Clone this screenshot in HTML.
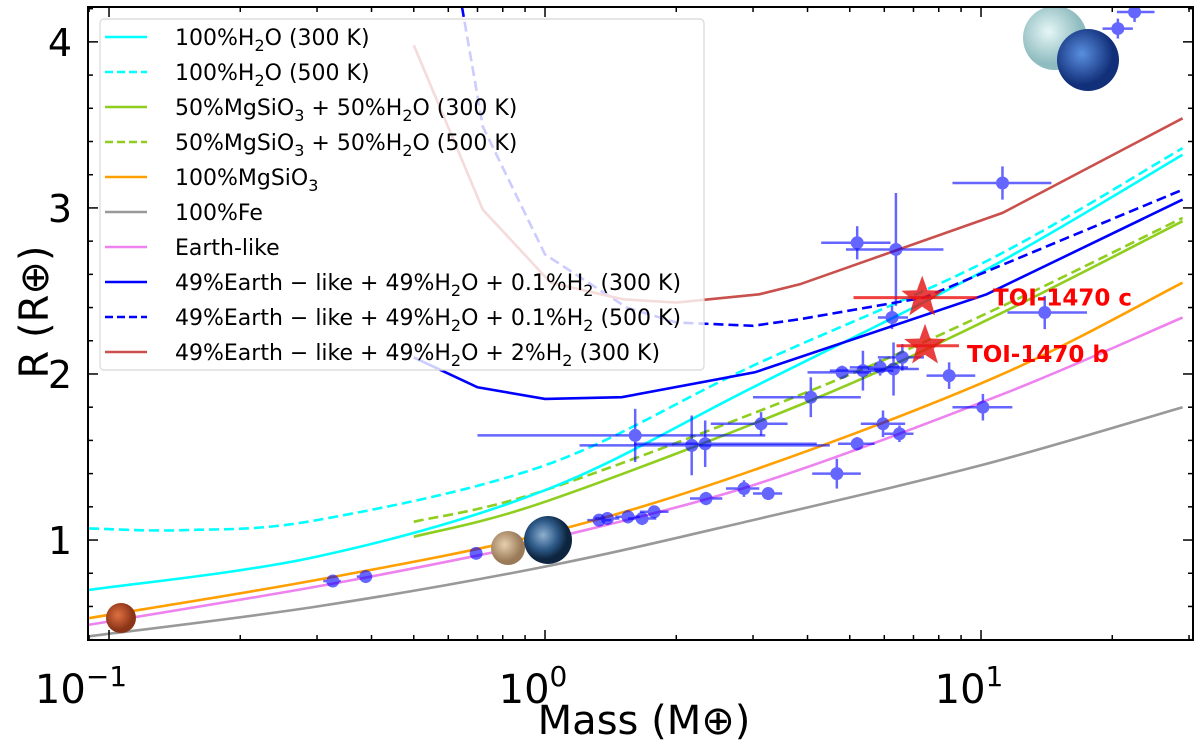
<!DOCTYPE html>
<html><head><meta charset="utf-8">
<style>
html,body{margin:0;padding:0;background:#fff;}
svg{display:block;font-family:"DejaVu Sans","Liberation Sans",sans-serif;}
</style></head>
<body>
<svg id="chart" width="1200" height="740" viewBox="0 0 1200 740" xmlns="http://www.w3.org/2000/svg">
<defs>
<clipPath id="plotclip"><rect x="88" y="7" width="1105" height="633"/></clipPath>
<radialGradient id="gMars" cx="40%" cy="40%"><stop offset="0" stop-color="#e07040"/><stop offset="1" stop-color="#8a3418"/></radialGradient>
<radialGradient id="gVenus" cx="40%" cy="40%"><stop offset="0" stop-color="#e6cfae"/><stop offset="1" stop-color="#9a7a58"/></radialGradient>
<radialGradient id="gEarth" cx="40%" cy="40%"><stop offset="0" stop-color="#8fb0d0"/><stop offset="0.6" stop-color="#2d5a88"/><stop offset="1" stop-color="#0e2540"/></radialGradient>
<radialGradient id="gUranus" cx="40%" cy="40%"><stop offset="0" stop-color="#e6f6f6"/><stop offset="1" stop-color="#8fbcc0"/></radialGradient>
<radialGradient id="gNeptune" cx="40%" cy="40%"><stop offset="0" stop-color="#5a8fe0"/><stop offset="1" stop-color="#12307a"/></radialGradient>
</defs>
<g id="curves" clip-path="url(#plotclip)"></g>
<g id="points" clip-path="url(#plotclip)"></g>
<g id="planets"></g>
<g id="legend"></g>
<g id="axes"></g>
</svg>
<script>
// ---- data ----
const feM = [0.09, 0.3, 1, 3, 10, 29];
const feR = [0.42, 0.60, 0.84, 1.12, 1.45, 1.80];
const earthM = [0.09, 0.3, 0.71, 1, 3, 11, 29];
const earthR = [0.49, 0.72, 0.91, 1.0, 1.33, 1.87, 2.34];
const mgsM = [0.09, 0.3, 1, 3, 11, 29];
const mgsR = [0.53, 0.76, 1.04, 1.42, 1.99, 2.55];
const mix300M = [0.5, 1, 4.07, 11, 29];
const mix300R = [1.02, 1.23, 1.84, 2.36, 2.92];
const mix500M = [0.5, 1, 4.07, 11, 29];
const mix500R = [1.11, 1.30, 1.90, 2.40, 2.94];
const h2o300M = [0.09, 0.3, 1, 3, 10.3, 29];
const h2o300R = [0.70, 0.90, 1.30, 1.92, 2.63, 3.32];
const h2o500M = [0.09, 0.15, 0.3, 1, 3, 10.3, 29];
const h2o500R = [1.07, 1.06, 1.12, 1.45, 2.05, 2.68, 3.36];
const h2a300M = [0.5, 0.7, 1, 1.5, 3.03, 10.3, 29];
const h2a300R = [2.10, 1.92, 1.85, 1.86, 2.01, 2.48, 3.05];
const h2a500M = [0.645, 0.72, 1.0, 1.54, 2, 3, 3.84, 7.4, 29];
const h2a500R = [4.21, 3.49, 2.72, 2.40, 2.31, 2.29, 2.33, 2.46, 3.11];
const h2b300M = [0.5, 0.72, 1.03, 1.51, 2, 3.1, 3.84, 11.2, 29];
const h2b300R = [3.98, 2.99, 2.55, 2.45, 2.43, 2.48, 2.54, 2.97, 3.54];

const obsM = [0.326,0.388,0.695,1.33,1.39,1.55,1.67,1.78,2.34,2.86,3.25,4.67,5.2,5.96,6.5,10.1,1.61,2.17,2.33,3.13,4.07,4.8,5.36,5.87,6.3,6.6,6.25,8.45,5.2,6.38,11.2,14.0,20.6,22.5];
const obsR = [0.753,0.78,0.92,1.12,1.13,1.14,1.13,1.17,1.25,1.31,1.28,1.40,1.58,1.70,1.64,1.80,1.63,1.57,1.58,1.70,1.86,2.01,2.02,2.04,2.03,2.10,2.34,1.99,2.79,2.75,3.15,2.37,4.08,4.18];
const obsMlo = [0.31,0.37,0.68,1.25,1.3,1.45,1.55,1.65,2.15,2.6,3.0,4.1,4.7,5.3,6.0,8.6,0.7,1.2,1.6,2.4,3.0,4.0,4.5,5.0,5.5,5.8,5.8,7.5,4.3,4.9,8.6,11.5,19,20.5];
const obsMhi = [0.34,0.40,0.71,1.42,1.48,1.65,1.8,1.92,2.55,3.1,3.5,5.3,5.7,6.7,7.0,11.8,3.2,4.5,4.2,3.6,5.3,5.6,6.3,6.8,7.2,7.4,6.8,9.7,6.2,8.2,14.5,17.5,22.3,25];
const obsRerr = [0.02,0.02,0.02,0.03,0.03,0.04,0.04,0.03,0.04,0.05,0.03,0.09,0.04,0.08,0.05,0.08,0.16,0.18,0.14,0.07,0.12,0.04,0.12,0.05,0.16,0.08,0.07,0.08,0.10,0.34,0.10,0.10,0.06,0.06];

const toiNames = ["TOI-1470 c","TOI-1470 b"];
const toiM = [7.33, 7.44];
const toiR = [2.46, 2.17];
const toiMlo = [5.1, 6.4];
const toiMhi = [9.8, 8.9];

const yTicks = [1, 2, 3, 4];
const xTickExps = ["−1", "0", "1"];
const xTickVals = [0.1, 1, 10];

// ---- axes ----
const X0 = 88, X1 = 1193, Y0 = 7, Y1 = 640;
const xLogMin = -1.0482, xLogMax = 1.4862;
const yMin = 0.398, yMax = 4.21;
function xs(m){ return X0 + (Math.log10(m) - xLogMin) / (xLogMax - xLogMin) * (X1 - X0); }
function ys(r){ return Y1 - (r - yMin) / (yMax - yMin) * (Y1 - Y0); }
const NS = "http://www.w3.org/2000/svg";
function mk(tag, attrs, parent){ const e = document.createElementNS(NS, tag); for (const k in attrs) e.setAttribute(k, attrs[k]); parent.appendChild(e); return e; }

const curves = document.getElementById('curves');
function pathFor(M, R, smooth){
  const P = M.map((m,i)=>[xs(m), ys(R[i])]);
  if (!smooth) return P.map((p,i)=>(i?'L':'M')+p[0].toFixed(1)+' '+p[1].toFixed(1)).join(' ');
  let d = 'M'+P[0][0].toFixed(1)+' '+P[0][1].toFixed(1);
  for (let i=0;i<P.length-1;i++){
    const p0 = P[Math.max(0,i-1)], p1 = P[i], p2 = P[i+1], p3 = P[Math.min(P.length-1,i+2)];
    const c1 = [p1[0]+(p2[0]-p0[0])/6, p1[1]+(p2[1]-p0[1])/6];
    const c2 = [p2[0]-(p3[0]-p1[0])/6, p2[1]-(p3[1]-p1[1])/6];
    d += ' C'+c1[0].toFixed(1)+' '+c1[1].toFixed(1)+' '+c2[0].toFixed(1)+' '+c2[1].toFixed(1)+' '+p2[0].toFixed(1)+' '+p2[1].toFixed(1);
  }
  return d;
}
function curve(M, R, color, dash, name, smooth){
  const p = mk('path', {d:pathFor(M,R,smooth), fill:'none', stroke:color, 'stroke-width':2.6}, curves);
  if (dash) p.setAttribute('stroke-dasharray', '10 5');
  
  
}
const C = {h2o:'#00ffff', mix:'#8fce1e', mgs:'#ff9f00', fe:'#999999', earth:'#ee82ee', blue:'#0000ff', red:'#c9504c'};
curve(feM, feR, C.fe, false, 'fe-curve', true);
curve(earthM, earthR, C.earth, false, 'earth-like-curve', true);
curve(mgsM, mgsR, C.mgs, false, 'mgsio3-curve', true);
curve(mix300M, mix300R, C.mix, false, 'mgsio3-h2o-300k-curve', true);
curve(mix500M, mix500R, C.mix, true, 'mgsio3-h2o-500k-curve', true);
curve(h2o300M, h2o300R, C.h2o, false, 'h2o-300k-curve', true);
curve(h2o500M, h2o500R, C.h2o, true, 'h2o-500k-curve', true);
curve(h2a300M, h2a300R, C.blue, false, 'h2-01-300k-curve', false);
curve(h2a500M, h2a500R, C.blue, true, 'h2-01-500k-curve', false);
curve(h2b300M, h2b300R, C.red, false, 'h2-2-300k-curve', false);

// ---- observed planets ----
const pts = document.getElementById('points');
obsM.forEach((m,i)=>{
  const g = mk('g', {opacity:0.6}, pts);
  
  
  const x = xs(m), y = ys(obsR[i]);
  mk('line', {x1:xs(obsMlo[i]), x2:xs(obsMhi[i]), y1:y, y2:y, stroke:'#0000ff', 'stroke-width':2.5}, g);
  mk('line', {x1:x, x2:x, y1:ys(obsR[i]-obsRerr[i]), y2:ys(obsR[i]+obsRerr[i]), stroke:'#0000ff', 'stroke-width':2.5}, g);
  mk('circle', {cx:x, cy:y, r:6.5, fill:'#0000ff'}, g);
});
toiM.forEach((m,i)=>{
  const g = mk('g', {}, pts);
  
  
  const x = xs(m), y = ys(toiR[i]);
  mk('line', {x1:xs(toiMlo[i]), x2:xs(toiMhi[i]), y1:y, y2:y, stroke:'#ee1111', 'stroke-width':3, opacity:0.8}, g);
  let d = '';
  for (let k=0;k<10;k++){ const a = -Math.PI/2 + k*Math.PI/5; const rr = k%2?9:22; d += (k?'L':'M') + (x+rr*Math.cos(a)).toFixed(1) + ' ' + (y+rr*Math.sin(a)).toFixed(1); }
  mk('path', {d:d+'Z', fill:'#e51515', opacity:0.82}, g);
});
const svgEl = document.getElementById('chart');
const lc = mk('text', {x:993, y:ys(toiR[0])+8, 'font-size':23, 'font-weight':'bold', fill:'#ff0000'}, svgEl);
lc.textContent = toiNames[0];


const lb = mk('text', {x:967, y:ys(toiR[1])+16, 'font-size':23, 'font-weight':'bold', fill:'#ff0000'}, svgEl);
lb.textContent = toiNames[1];



// ---- solar system planets ----
const pl = document.getElementById('planets');
[['mars-image',121,618,15,'gMars'],['venus-image',508,548,17,'gVenus'],['earth-image',548,540,24,'gEarth'],['uranus-image',1055,38,32,'gUranus'],['neptune-image',1088,60,31,'gNeptune']].forEach(p=>{
  const c = mk('circle', {cx:p[1], cy:p[2], r:p[3], fill:'url(#'+p[4]+')'}, pl);
  
  
});

// ---- legend ----
const lg = document.getElementById('legend');
const box = mk('rect', {x:100, y:19, width:604, height:351, rx:4, fill:'#ffffff', 'fill-opacity':0.8, stroke:'#d8d8d8', 'stroke-width':1.2}, lg);


const entries = [
  [C.h2o,false,'100%H<tspan dy="6" font-size="16">2</tspan><tspan dy="-6">O (300 K)</tspan>'],
  [C.h2o,true,'100%H<tspan dy="6" font-size="16">2</tspan><tspan dy="-6">O (500 K)</tspan>'],
  [C.mix,false,'50%MgSiO<tspan dy="6" font-size="16">3</tspan><tspan dy="-6"> + 50%H</tspan><tspan dy="6" font-size="16">2</tspan><tspan dy="-6">O (300 K)</tspan>'],
  [C.mix,true,'50%MgSiO<tspan dy="6" font-size="16">3</tspan><tspan dy="-6"> + 50%H</tspan><tspan dy="6" font-size="16">2</tspan><tspan dy="-6">O (500 K)</tspan>'],
  [C.mgs,false,'100%MgSiO<tspan dy="6" font-size="16">3</tspan>'],
  [C.fe,false,'100%Fe'],
  [C.earth,false,'Earth-like'],
  [C.blue,false,'49%Earth − like + 49%H<tspan dy="6" font-size="16">2</tspan><tspan dy="-6">O + 0.1%H</tspan><tspan dy="6" font-size="16">2</tspan><tspan dy="-6"> (300 K)</tspan>'],
  [C.blue,true,'49%Earth − like + 49%H<tspan dy="6" font-size="16">2</tspan><tspan dy="-6">O + 0.1%H</tspan><tspan dy="6" font-size="16">2</tspan><tspan dy="-6"> (500 K)</tspan>'],
  [C.red,false,'49%Earth − like + 49%H<tspan dy="6" font-size="16">2</tspan><tspan dy="-6">O + 2%H</tspan><tspan dy="6" font-size="16">2</tspan><tspan dy="-6"> (300 K)</tspan>']
];
entries.forEach((e,i)=>{
  const y = 37 + i*35;
  const g = mk('g', {}, lg);
  
  
  const l = mk('line', {x1:105, x2:147, y1:y, y2:y, stroke:e[0], 'stroke-width':2.6}, g);
  if (e[1]) l.setAttribute('stroke-dasharray', '8 4');
  const t = mk('text', {x:175, y:y+8, 'font-size':22, fill:'#000'}, g);
  t.innerHTML = e[2];
});

// ---- axes ----
const ax = document.getElementById('axes');
const frame = mk('rect', {x:X0, y:Y0, width:X1-X0, height:Y1-Y0, fill:'none', stroke:'#000', 'stroke-width':2}, ax);


for (let dec=-2; dec<=1; dec++){
  for (let k=1; k<=9; k++){
    const m = k*Math.pow(10,dec);
    const x = xs(m);
    if (x < X0 || x > X1) continue;
    const len = k===1 ? 10 : 5;
    mk('line', {x1:x, x2:x, y1:Y1, y2:Y1-len, stroke:'#000', 'stroke-width':1.5}, ax);
    mk('line', {x1:x, x2:x, y1:Y0, y2:Y0+len, stroke:'#000', 'stroke-width':1.5}, ax);
  }
}
for (let r=0.4; r<=4.21; r+=0.2){
  const y = ys(r);
  const major = Math.abs(r - Math.round(r)) < 0.01;
  const len = major ? 10 : 5;
  mk('line', {x1:X0, x2:X0+len, y1:y, y2:y, stroke:'#000', 'stroke-width':1.5}, ax);
  mk('line', {x1:X1, x2:X1-len, y1:y, y2:y, stroke:'#000', 'stroke-width':1.5}, ax);
}
yTicks.forEach(v=>{
  const t = mk('text', {x:72, y:ys(v)+14, 'font-size':38, 'text-anchor':'end', fill:'#000'}, ax);
  t.textContent = v;
  
  
});
xTickVals.forEach((v,i)=>{
  const t = mk('text', {x:xs(v)-(i===0?28:12), y:703, 'font-size':40, 'text-anchor':'middle', fill:'#000'}, ax);
  t.innerHTML = '10<tspan dy="-17" font-size="28">' + xTickExps[i] + '</tspan>';
  
  
});
const xt = mk('text', {x:644, y:734, 'font-size':40, 'text-anchor':'middle', fill:'#000'}, ax);
xt.textContent = 'Mass (M⊕)';


const yt = mk('text', {x:0, y:0, 'font-size':40, 'text-anchor':'middle', fill:'#000', transform:'translate(48,312) rotate(-90)'}, ax);
yt.textContent = 'R (R⊕)';


</script>
</body></html>
